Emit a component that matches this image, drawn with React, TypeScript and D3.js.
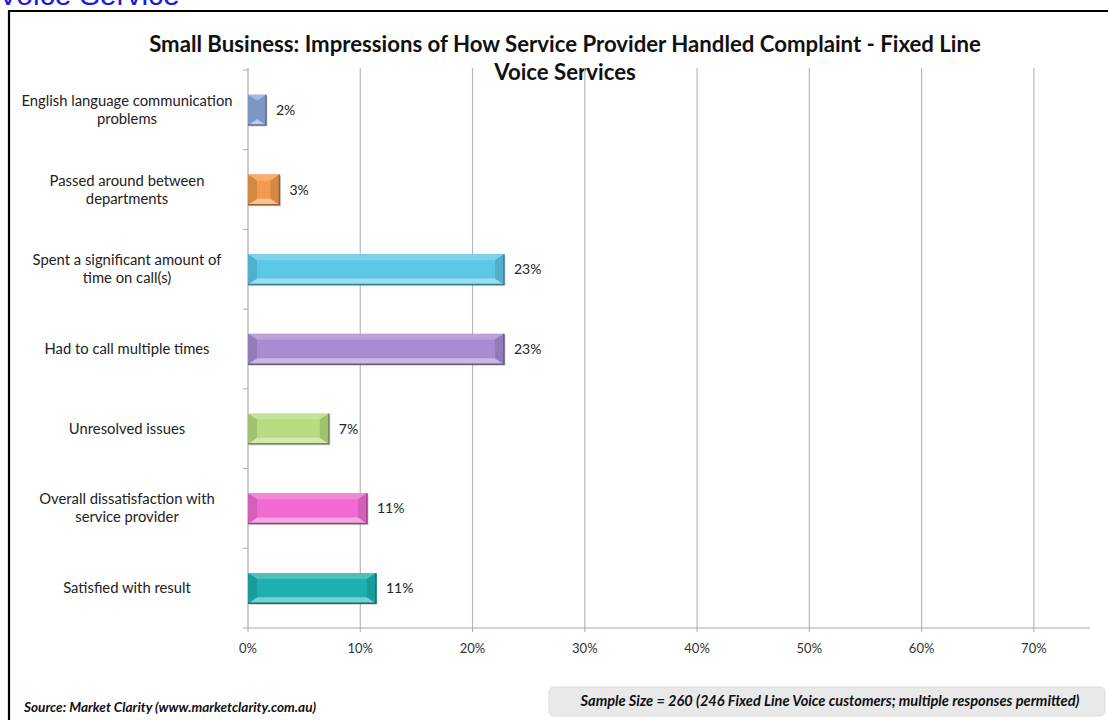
import React from 'react';
import * as d3 from 'd3';

const categories = [
  'English language communication problems',
  'Passed around between departments',
  'Spent a significant amount of time on call(s)',
  'Had to call multiple times',
  'Unresolved issues',
  'Overall dissatisfaction with service provider',
  'Satisfied with result',
];
const labelLines = [
  ['English language communication', 'problems'],
  ['Passed around between', 'departments'],
  ['Spent a significant amount of', 'time on call(s)'],
  ['Had to call multiple times'],
  ['Unresolved issues'],
  ['Overall dissatisfaction with', 'service provider'],
  ['Satisfied with result'],
];
const values = [0.016, 0.028, 0.228, 0.228, 0.072, 0.106, 0.114];
const valueLabels = ['2%', '3%', '23%', '23%', '7%', '11%', '11%'];
const barColors = ['#8eaade', '#f39a4c', '#5cc6e6', '#a68bd0', '#b7db7e', '#f06ad2', '#1eb0b0'];
const xTicks = [0, 0.1, 0.2, 0.3, 0.4, 0.5, 0.6, 0.7];

const FONT = 'Lato, "Open Sans", sans-serif';

export default function App() {
  const W = 1108;
  const H = 720;
  const x = d3.scaleLinear().domain([0, 0.75]).range([248, 1090]);
  const y = d3.scaleBand<string>().domain(categories).range([70, 628]).paddingInner(0.62).paddingOuter(0.31);
  const bh = y.bandwidth();
  const plotTop = 68;
  const plotBottom = 628;

  const bars = categories.map((c, i) => {
    const x0 = x(0);
    const x1 = x(values[i]);
    const y0 = y(c)!;
    const y1 = y0 + bh;
    const w = x1 - x0;
    const b = Math.min(9, w / 2);
    const v = 6;
    const base = d3.color(barColors[i])!;
    const light = d3.interpolateRgb(barColors[i], '#ffffff')(0.4);
    const lighter = d3.interpolateRgb(barColors[i], '#ffffff')(0.2);
    const dark = base.darker(0.35).toString();
    const edge = base.darker(1.3).toString();
    const pts = (arr: number[][]) => arr.map((p) => p.join(',')).join(' ');
    return (
      <g key={c}>
        <rect x={x0 + 1.5} y={y0 + 1.5} width={w} height={bh} fill="#000" opacity={0.18} />
        <rect x={x0} y={y0} width={w} height={bh} fill={barColors[i]} />
        <polygon points={pts([[x0, y0], [x1, y0], [x1 - b, y0 + v], [x0 + b, y0 + v]])} fill={lighter} />
        <polygon points={pts([[x0, y1], [x1, y1], [x1 - b, y1 - v], [x0 + b, y1 - v]])} fill={light} />
        <polygon points={pts([[x0, y0], [x0 + b, y0 + v], [x0 + b, y1 - v], [x0, y1]])} fill={dark} />
        <polygon points={pts([[x1, y0], [x1 - b, y0 + v], [x1 - b, y1 - v], [x1, y1]])} fill={dark} />
        <path d={`M${x0},${y1}H${x1}V${y0}`} fill="none" stroke={edge} strokeWidth={1.5} />
        <text x={x1 + 10} y={y0 + bh / 2 + 5} fontSize={14} fontFamily={FONT} fill="#222">
          {valueLabels[i]}
        </text>
      </g>
    );
  });

  const boundaries = categories.map((c) => y(c)! - y.step() * y.paddingInner() / 2);

  return (
    <svg width={W} height={H} style={{ position: 'absolute', left: 0, top: 0, background: '#fff' }}>
      <text x={-2} y={5} fontSize={30} fontFamily="Arial, 'Liberation Sans', sans-serif" fill="#1c1ce0">
        Voice Service
      </text>
      <path d={`M9,${H}V11H${W}`} fill="none" stroke="#000" strokeWidth={2.2} />

      <text textAnchor="middle" fontFamily={FONT} fontWeight="bold" fontSize={22.2} fill="#111">
        <tspan x={565} y={52}>Small Business: Impressions of How Service Provider Handled Complaint - Fixed Line</tspan>
        <tspan x={565} y={80}>Voice Services</tspan>
      </text>

      {xTicks.slice(1).map((t) => (
        <line key={t} x1={x(t)} x2={x(t)} y1={plotTop} y2={plotBottom} stroke="#b8b8b8" strokeWidth={1.2} />
      ))}
      {xTicks.map((t) => (
        <line key={'t' + t} x1={x(t)} x2={x(t)} y1={plotBottom} y2={plotBottom + 4} stroke="#aaa" />
      ))}
      <line x1={243} x2={x(0.75)} y1={plotBottom} y2={plotBottom} stroke="#aaa" strokeWidth={1.2} />
      <line x1={x(0)} x2={x(0)} y1={plotTop} y2={plotBottom} stroke="#aaa" strokeWidth={1.2} />
      {boundaries.map((b, i) => (
        <line key={i} x1={243} x2={x(0)} y1={b} y2={b} stroke="#aaa" />
      ))}

      {xTicks.map((t) => (
        <text key={'l' + t} x={x(t)} y={653} textAnchor="middle" fontSize={13} fontFamily={FONT} fill="#333">
          {d3.format('.0%')(t)}
        </text>
      ))}

      {categories.map((c, i) => {
        const cy = y(c)! + bh / 2;
        const lines = labelLines[i];
        const lh = 18;
        const start = cy + 5 - ((lines.length - 1) * lh) / 2;
        return (
          <text key={c} textAnchor="middle" fontSize={14.8} fontFamily={FONT} fill="#222">
            {lines.map((l, j) => (
              <tspan key={j} x={127} y={start + j * lh}>
                {l}
              </tspan>
            ))}
          </text>
        );
      })}

      {bars}

      <text x={24} y={712} fontSize={13.6} fontWeight="bold" fontStyle="italic" fontFamily={FONT} fill="#111">
        Source: Market Clarity (www.marketclarity.com.au)
      </text>
      <rect x={549} y={687} width={556} height={29} rx={5} fill="#e9e9e9" stroke="#dcdcdc" />
      <text x={830} y={706} textAnchor="middle" fontSize={14.6} fontWeight="bold" fontStyle="italic" fontFamily={FONT} fill="#111">
        Sample Size = 260 (246 Fixed Line Voice customers; multiple responses permitted)
      </text>
    </svg>
  );
}
